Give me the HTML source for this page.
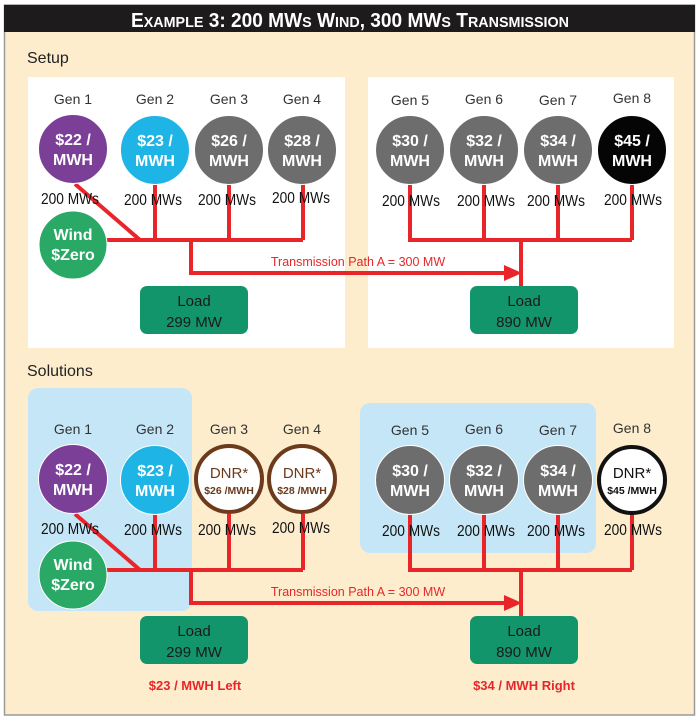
<!DOCTYPE html>
<html><head><meta charset="utf-8"><style>
html,body{margin:0;padding:0;background:#fff;}
svg{display:block;}
text{font-family:"Liberation Sans",Arial,sans-serif;}
</style></head><body>
<svg width="700" height="722" viewBox="0 0 700 722" xmlns="http://www.w3.org/2000/svg">
<rect x="4.5" y="5" width="690" height="710" fill="#fdedcd" stroke="#9a9a9a" stroke-width="1.5"/>
<rect x="4" y="5" width="691" height="27" fill="#1d1b1b"/>
<text x="350" y="27" text-anchor="middle" fill="#fff" font-weight="bold" font-size="20" textLength="438" lengthAdjust="spacingAndGlyphs">E<tspan font-size="15">XAMPLE</tspan> 3: 200 MW<tspan font-size="15">S</tspan> W<tspan font-size="15">IND</tspan>, 300 MW<tspan font-size="15">S</tspan> T<tspan font-size="15">RANSMISSION</tspan></text>

<text x="27" y="63" font-size="16" fill="#222">Setup</text>
<text x="27" y="376" font-size="16" fill="#222">Solutions</text>

<rect x="28" y="77" width="317" height="271" fill="#fff"/>
<rect x="368" y="77" width="306" height="271" fill="#fff"/>

<rect x="28" y="388" width="164" height="223" rx="10" fill="#c5e6f7"/>
<rect x="360" y="403" width="236" height="150" rx="10" fill="#c5e6f7"/>

<defs>
<g id="net" fill="none" stroke="#e8262a" stroke-width="4">
<path d="M75 184 L140 240 M107 240 H303 M155 184 V240 M229 184 V240 M303 184 V240 M191 240 V273 H510"/>
<path d="M410 184 V240 H632 M484 184 V240 M558 184 V240 M632 184 V240 M521 240 V286"/>
<polygon points="504,265 522,273 504,281" fill="#e8262a" stroke="none"/>
</g>
</defs>
<use href="#net"/>
<use href="#net" y="330"/>

<g font-size="14" fill="#333" text-anchor="middle">
<text x="73" y="104">Gen 1</text><text x="155" y="104">Gen 2</text><text x="229" y="104">Gen 3</text><text x="302" y="104">Gen 4</text>
<text x="410" y="105">Gen 5</text><text x="484" y="104">Gen 6</text><text x="558" y="105">Gen 7</text><text x="632" y="103">Gen 8</text>
<text x="73" y="434">Gen 1</text><text x="155" y="434">Gen 2</text><text x="229" y="434">Gen 3</text><text x="302" y="434">Gen 4</text>
<text x="410" y="435">Gen 5</text><text x="484" y="434">Gen 6</text><text x="558" y="435">Gen 7</text><text x="632" y="433">Gen 8</text>
</g>

<g stroke="#fff" stroke-width="1">
<circle cx="73" cy="149" r="34.5" fill="#7b3f98"/>
<circle cx="155" cy="150" r="34.5" fill="#1fb4e6"/>
<circle cx="229" cy="150" r="34.5" fill="#6d6d6d"/>
<circle cx="302" cy="150" r="34.5" fill="#6d6d6d"/>
<circle cx="410" cy="150" r="34.5" fill="#6d6d6d"/>
<circle cx="484" cy="150" r="34.5" fill="#6d6d6d"/>
<circle cx="558" cy="150" r="34.5" fill="#6d6d6d"/>
<circle cx="632" cy="150" r="34.5" fill="#050505"/>
<circle cx="73" cy="245" r="34" fill="#2aa865"/>
<circle cx="73" cy="479" r="34.5" fill="#7b3f98"/>
<circle cx="155" cy="480" r="34.5" fill="#1fb4e6"/>
<circle cx="410" cy="480" r="34.5" fill="#6d6d6d"/>
<circle cx="484" cy="480" r="34.5" fill="#6d6d6d"/>
<circle cx="558" cy="480" r="34.5" fill="#6d6d6d"/>
<circle cx="73" cy="575" r="34" fill="#2aa865"/>
</g>
<circle cx="229" cy="479" r="33" fill="#fff" stroke="#6b3b1c" stroke-width="4"/>
<circle cx="302" cy="479" r="33" fill="#fff" stroke="#6b3b1c" stroke-width="4"/>
<circle cx="632" cy="480" r="33" fill="#fff" stroke="#111" stroke-width="4"/>

<g font-size="16" font-weight="bold" fill="#fff" text-anchor="middle">
<text x="73" y="145">$22 /</text><text x="73" y="165">MWH</text>
<text x="155" y="146">$23 /</text><text x="155" y="166">MWH</text>
<text x="229" y="146">$26 /</text><text x="229" y="166">MWH</text>
<text x="302" y="146">$28 /</text><text x="302" y="166">MWH</text>
<text x="410" y="146">$30 /</text><text x="410" y="166">MWH</text>
<text x="484" y="146">$32 /</text><text x="484" y="166">MWH</text>
<text x="558" y="146">$34 /</text><text x="558" y="166">MWH</text>
<text x="632" y="146">$45 /</text><text x="632" y="166">MWH</text>
<text x="73" y="240">Wind</text><text x="73" y="260">$Zero</text>
<text x="73" y="475">$22 /</text><text x="73" y="495">MWH</text>
<text x="155" y="476">$23 /</text><text x="155" y="496">MWH</text>
<text x="410" y="476">$30 /</text><text x="410" y="496">MWH</text>
<text x="484" y="476">$32 /</text><text x="484" y="496">MWH</text>
<text x="558" y="476">$34 /</text><text x="558" y="496">MWH</text>
<text x="73" y="570">Wind</text><text x="73" y="590">$Zero</text>
</g>
<g text-anchor="middle">
<text x="229" y="478" font-size="15" fill="#6b3b1c">DNR*</text><text x="229" y="494" font-size="10.5" font-weight="bold" fill="#6b3b1c">$26 /MWH</text>
<text x="302" y="478" font-size="15" fill="#6b3b1c">DNR*</text><text x="302" y="494" font-size="10.5" font-weight="bold" fill="#6b3b1c">$28 /MWH</text>
<text x="632" y="478" font-size="15" fill="#111">DNR*</text><text x="632" y="494" font-size="10.5" font-weight="bold" fill="#111">$45 /MWH</text>
</g>

<g font-size="16" fill="#111" text-anchor="middle">
<text x="70" y="204" textLength="58" lengthAdjust="spacingAndGlyphs">200 MWs</text><text x="153" y="205" textLength="58" lengthAdjust="spacingAndGlyphs">200 MWs</text><text x="227" y="205" textLength="58" lengthAdjust="spacingAndGlyphs">200 MWs</text><text x="301" y="203" textLength="58" lengthAdjust="spacingAndGlyphs">200 MWs</text>
<text x="411" y="206" textLength="58" lengthAdjust="spacingAndGlyphs">200 MWs</text><text x="486" y="206" textLength="58" lengthAdjust="spacingAndGlyphs">200 MWs</text><text x="556" y="206" textLength="58" lengthAdjust="spacingAndGlyphs">200 MWs</text><text x="633" y="205" textLength="58" lengthAdjust="spacingAndGlyphs">200 MWs</text>
<text x="70" y="534" textLength="58" lengthAdjust="spacingAndGlyphs">200 MWs</text><text x="153" y="535" textLength="58" lengthAdjust="spacingAndGlyphs">200 MWs</text><text x="227" y="535" textLength="58" lengthAdjust="spacingAndGlyphs">200 MWs</text><text x="301" y="533" textLength="58" lengthAdjust="spacingAndGlyphs">200 MWs</text>
<text x="411" y="536" textLength="58" lengthAdjust="spacingAndGlyphs">200 MWs</text><text x="486" y="536" textLength="58" lengthAdjust="spacingAndGlyphs">200 MWs</text><text x="556" y="536" textLength="58" lengthAdjust="spacingAndGlyphs">200 MWs</text><text x="633" y="535" textLength="58" lengthAdjust="spacingAndGlyphs">200 MWs</text>
</g>

<g font-size="12.5" fill="#e8262a" text-anchor="middle">
<text x="358" y="266">Transmission Path A = 300 MW</text>
<text x="358" y="596">Transmission Path A = 300 MW</text>
</g>

<g fill="#13956c">
<rect x="140" y="286" width="108" height="48" rx="7"/>
<rect x="470" y="286" width="108" height="48" rx="7"/>
<rect x="140" y="616" width="108" height="48" rx="7"/>
<rect x="470" y="616" width="108" height="48" rx="7"/>
</g>
<g font-size="15" fill="#1a1a1a" text-anchor="middle">
<text x="194" y="306">Load</text><text x="194" y="327">299 MW</text>
<text x="524" y="306">Load</text><text x="524" y="327">890 MW</text>
<text x="194" y="636">Load</text><text x="194" y="657">299 MW</text>
<text x="524" y="636">Load</text><text x="524" y="657">890 MW</text>
</g>
<g font-size="13" font-weight="bold" fill="#e8262a" text-anchor="middle">
<text x="195" y="690">$23 / MWH Left</text>
<text x="524" y="690">$34 / MWH Right</text>
</g>
</svg>
</body></html>
